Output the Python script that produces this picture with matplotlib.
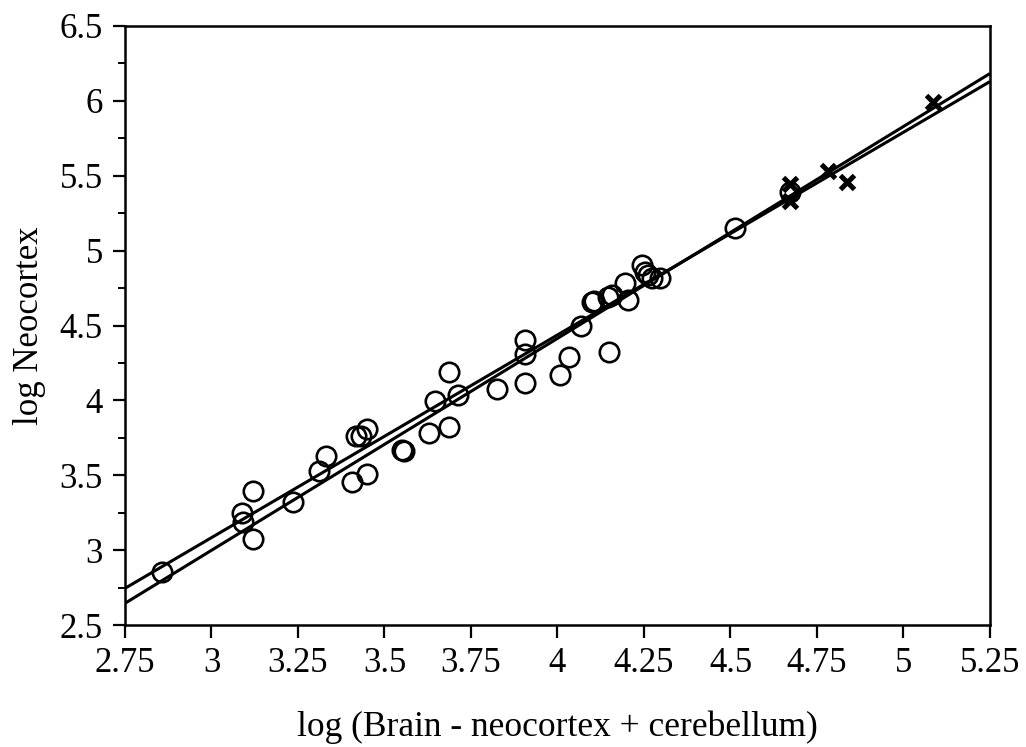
import matplotlib
matplotlib.use("Agg")
import matplotlib.pyplot as plt
from matplotlib.ticker import MultipleLocator, FixedLocator

# Open circles (species)
circle_x = [2.856, 3.087, 3.092, 3.119, 3.119, 3.236, 3.312, 3.330, 3.405, 3.418,
            3.431, 3.450, 3.449, 3.550, 3.556, 3.630, 3.646, 3.687, 3.687, 3.713,
            3.824, 3.907, 3.907, 3.907, 4.007, 4.034, 4.150, 4.068, 4.100, 4.106,
            4.146, 4.158, 4.195, 4.205, 4.243, 4.253, 4.262, 4.272, 4.296, 4.513,
            4.672]
circle_y = [2.856, 3.246, 3.190, 3.397, 3.072, 3.323, 3.531, 3.631, 3.457, 3.762,
            3.762, 3.809, 3.508, 3.669, 3.665, 3.780, 3.998, 4.192, 3.820, 4.036,
            4.074, 4.403, 4.310, 4.114, 4.169, 4.292, 4.325, 4.499, 4.659, 4.662,
            4.690, 4.704, 4.786, 4.670, 4.904, 4.859, 4.837, 4.815, 4.815, 5.149,
            5.389]

# Crosses
cross_x = [4.672, 4.672, 4.783, 4.836, 5.086]
cross_y = [5.445, 5.333, 5.530, 5.455, 5.995]

# Two regression lines (endpoints at axis limits)
line_x = [2.75, 5.25]
line1_y = [2.745, 6.129]
line2_y = [2.645, 6.183]

xticks = [2.75, 3, 3.25, 3.5, 3.75, 4, 4.25, 4.5, 4.75, 5, 5.25]
xticklabels = ["2.75", "3", "3.25", "3.5", "3.75", "4", "4.25", "4.5", "4.75", "5", "5.25"]
yticks = [2.5, 3, 3.5, 4, 4.5, 5, 5.5, 6, 6.5]
yticklabels = ["2.5", "3", "3.5", "4", "4.5", "5", "5.5", "6", "6.5"]

plt.rcParams["font.family"] = ["Liberation Serif", "DejaVu Serif"]

fig = plt.figure(figsize=(10.26, 7.47), dpi=100)
ax = fig.add_axes([125 / 1026, 1 - 625 / 747, (990 - 125) / 1026, (625 - 26) / 747])

ax.plot(line_x, line1_y, color="black", lw=2.2, solid_capstyle="butt", zorder=2)
ax.plot(line_x, line2_y, color="black", lw=2.2, solid_capstyle="butt", zorder=2)

ax.plot(circle_x, circle_y, linestyle="none", marker="o", markersize=14,
        markerfacecolor="none", markeredgecolor="black", markeredgewidth=1.9, zorder=3)
ax.plot(cross_x, cross_y, linestyle="none", marker="x", markersize=10.5,
        markeredgecolor="black", markeredgewidth=3.6, zorder=4)

ax.set_xlim(2.75, 5.25)
ax.set_ylim(2.5, 6.5)
ax.xaxis.set_major_locator(FixedLocator(xticks))
ax.set_xticklabels(xticklabels)
ax.yaxis.set_major_locator(FixedLocator(yticks))
ax.set_yticklabels(yticklabels)
ax.yaxis.set_minor_locator(MultipleLocator(0.25))

for s in ax.spines.values():
    s.set_linewidth(1.8)

ax.tick_params(axis="both", which="major", direction="out", length=9, width=1.6,
               labelsize=25, pad=7)
ax.tick_params(axis="y", which="minor", direction="out", length=5, width=1.4)
ax.tick_params(top=False, right=False)

ax.set_xlabel("log (Brain - neocortex + cerebellum)", fontsize=25.5, labelpad=22)
ax.set_ylabel("log Neocortex", fontsize=25, labelpad=10)

fig.savefig("out.png", dpi=100)
